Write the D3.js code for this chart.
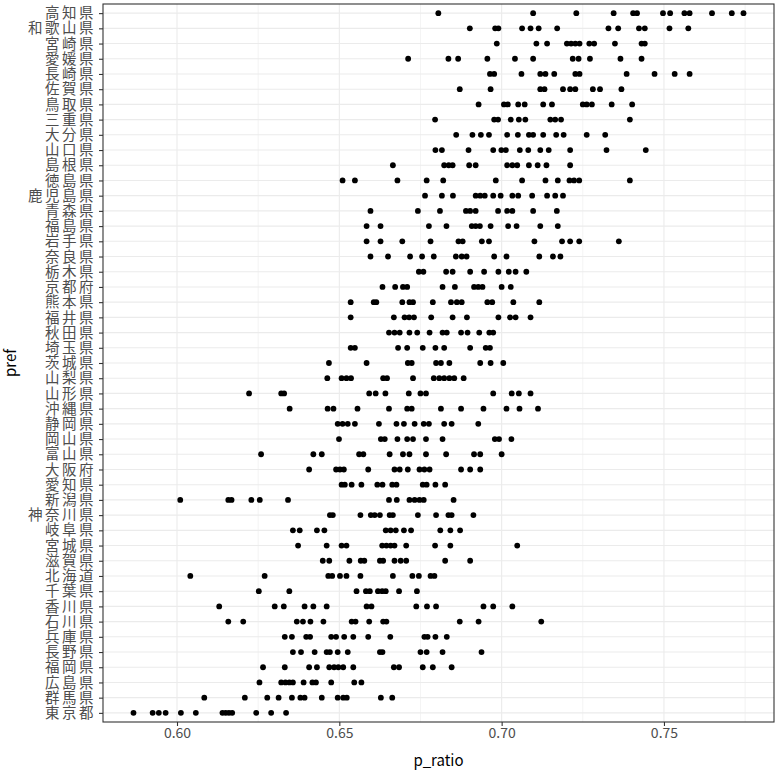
<!DOCTYPE html>
<html><head><meta charset="utf-8">
<script src="https://cdn.jsdelivr.net/npm/d3@7"></script>
<style>
body{margin:0;background:#fff;}
text{font-family:"Noto Sans CJK JP","Noto Sans",sans-serif;}
</style>
</head><body>
<svg id="chart" width="780" height="772"></svg>
<script>
// categories, top to bottom
const prefs = ["高知県","和歌山県","宮崎県","愛媛県","長崎県","佐賀県","鳥取県","三重県","大分県","山口県","島根県","徳島県","鹿児島県","青森県","福島県","岩手県","奈良県","栃木県","京都府","熊本県","福井県","秋田県","埼玉県","茨城県","山梨県","山形県","沖縄県","静岡県","岡山県","富山県","大阪府","愛知県","新潟県","神奈川県","岐阜県","宮城県","滋賀県","北海道","千葉県","香川県","石川県","兵庫県","長野県","福岡県","広島県","群馬県","東京都"];

// p_ratio values per prefecture (same order as prefs)
const pRatio = [
 [0.6805,0.7097,0.7230,0.7345,0.7405,0.7417,0.7497,0.7519,0.7563,0.7579,0.7648,0.7709,0.7745],
 [0.6902,0.6980,0.6990,0.7063,0.7089,0.7114,0.7171,0.7329,0.7359,0.7423,0.7441,0.7517,0.7575],
 [0.6985,0.7107,0.7140,0.7201,0.7214,0.7227,0.7240,0.7270,0.7285,0.7349,0.7431,0.7441],
 [0.6712,0.6836,0.6866,0.6956,0.7041,0.7097,0.7219,0.7237,0.7272,0.7366,0.7431],
 [0.6964,0.6977,0.7061,0.7119,0.7135,0.7162,0.7227,0.7240,0.7385,0.7471,0.7533,0.7579],
 [0.6871,0.6966,0.7119,0.7132,0.7189,0.7211,0.7227,0.7281,0.7303,0.7369],
 [0.6929,0.7007,0.7019,0.7051,0.7071,0.7128,0.7155,0.7250,0.7262,0.7278,0.7339,0.7402],
 [0.6795,0.6977,0.6989,0.7028,0.7053,0.7073,0.7150,0.7165,0.7183,0.7395],
 [0.6860,0.6910,0.6936,0.6961,0.7017,0.7050,0.7084,0.7097,0.7128,0.7168,0.7191,0.7262,0.7319],
 [0.6796,0.6816,0.6898,0.6974,0.6999,0.7013,0.7056,0.7082,0.7119,0.7145,0.7211,0.7323,0.7444],
 [0.6665,0.6823,0.6837,0.6849,0.6900,0.6920,0.7017,0.7033,0.7048,0.7084,0.7111,0.7138,0.7211],
 [0.6510,0.6548,0.6679,0.6769,0.6820,0.6982,0.7063,0.7135,0.7173,0.7209,0.7223,0.7239,0.7395],
 [0.6764,0.6816,0.6850,0.6920,0.6934,0.6948,0.6974,0.6997,0.7033,0.7051,0.7094,0.7140,0.7165,0.7189],
 [0.6596,0.6742,0.6810,0.6890,0.6903,0.6920,0.6989,0.7017,0.7033,0.7097,0.7170],
 [0.6584,0.6627,0.6776,0.6830,0.6908,0.6920,0.6933,0.6966,0.7020,0.7046,0.7119,0.7173],
 [0.6584,0.6627,0.6694,0.6781,0.6867,0.6880,0.6939,0.6961,0.7101,0.7186,0.7211,0.7239,0.7361],
 [0.6596,0.6650,0.6718,0.6755,0.6791,0.6859,0.6877,0.6892,0.6977,0.7015,0.7116,0.7158,0.7181],
 [0.6745,0.6759,0.6829,0.6849,0.6903,0.6946,0.6990,0.7022,0.7043,0.7076],
 [0.6633,0.6672,0.6696,0.6709,0.6818,0.6856,0.6915,0.6928,0.6941,0.7000,0.7028],
 [0.6535,0.6606,0.6614,0.6694,0.6716,0.6727,0.6788,0.6844,0.6862,0.6877,0.6956,0.6971,0.7036,0.7116],
 [0.6535,0.6668,0.6701,0.6715,0.6730,0.6783,0.6849,0.6893,0.6990,0.7026,0.7043,0.7089],
 [0.6653,0.6670,0.6686,0.6716,0.6740,0.6778,0.6818,0.6831,0.6875,0.6895,0.6931,0.6962,0.6974],
 [0.6535,0.6548,0.6681,0.6709,0.6757,0.6796,0.6823,0.6903,0.6951,0.6964],
 [0.6468,0.6584,0.6711,0.6723,0.6798,0.6813,0.6839,0.6934,0.6966,0.7005],
 [0.6463,0.6507,0.6522,0.6536,0.6635,0.6647,0.6727,0.6791,0.6808,0.6823,0.6839,0.6854,0.6883],
 [0.6222,0.6321,0.6330,0.6592,0.6612,0.6642,0.6714,0.6750,0.6767,0.6974,0.7031,0.7053,0.7089],
 [0.6347,0.6464,0.6482,0.6556,0.6653,0.6709,0.6723,0.6813,0.6875,0.6944,0.7015,0.7055,0.7112],
 [0.6495,0.6510,0.6526,0.6548,0.6622,0.6676,0.6699,0.6732,0.6760,0.6776,0.6823,0.6846,0.6928],
 [0.6499,0.6628,0.6640,0.6679,0.6709,0.6727,0.6767,0.6818,0.6979,0.6992,0.7030],
 [0.6259,0.6420,0.6446,0.6561,0.6574,0.6655,0.6696,0.6716,0.6767,0.6829,0.6915,0.6934,0.7000],
 [0.6407,0.6490,0.6502,0.6514,0.6589,0.6670,0.6686,0.6711,0.6747,0.6762,0.6778,0.6875,0.6903,0.6934],
 [0.6507,0.6517,0.6538,0.6568,0.6617,0.6633,0.6663,0.6676,0.6757,0.6769,0.6796,0.6826],
 [0.6010,0.6158,0.6168,0.6229,0.6255,0.6342,0.6653,0.6677,0.6716,0.6732,0.6747,0.6760,0.6852],
 [0.6471,0.6480,0.6565,0.6597,0.6609,0.6625,0.6655,0.6665,0.6742,0.6798,0.6836,0.6846,0.6913],
 [0.6357,0.6378,0.6431,0.6454,0.6643,0.6658,0.6674,0.6699,0.6721,0.6811,0.6842,0.6872],
 [0.6373,0.6461,0.6507,0.6522,0.6632,0.6645,0.6658,0.6670,0.6706,0.6795,0.6842,0.7048],
 [0.6449,0.6469,0.6531,0.6566,0.6577,0.6625,0.6635,0.6670,0.6689,0.6706,0.6826,0.6903],
 [0.6041,0.6270,0.6466,0.6478,0.6502,0.6522,0.6565,0.6665,0.6725,0.6745,0.6781,0.6793],
 [0.6252,0.6346,0.6553,0.6582,0.6594,0.6619,0.6632,0.6643,0.6684,0.6739],
 [0.6130,0.6301,0.6329,0.6393,0.6420,0.6461,0.6584,0.6599,0.6737,0.6770,0.6798,0.6944,0.6974,0.7033],
 [0.6158,0.6204,0.6369,0.6388,0.6411,0.6451,0.6538,0.6550,0.6592,0.6635,0.6645,0.6871,0.6929,0.7122],
 [0.6332,0.6354,0.6398,0.6410,0.6475,0.6490,0.6515,0.6543,0.6589,0.6657,0.6762,0.6772,0.6796,0.6831],
 [0.6357,0.6382,0.6424,0.6461,0.6471,0.6495,0.6526,0.6625,0.6633,0.6750,0.6769,0.6818,0.6938],
 [0.6265,0.6332,0.6407,0.6431,0.6469,0.6484,0.6497,0.6512,0.6543,0.6668,0.6684,0.6757,0.6788,0.6846],
 [0.6254,0.6321,0.6334,0.6346,0.6357,0.6390,0.6417,0.6428,0.6475,0.6546,0.6568],
 [0.6084,0.6209,0.6278,0.6313,0.6354,0.6380,0.6393,0.6446,0.6495,0.6512,0.6523,0.6628,0.6663],
 [0.5866,0.5925,0.5944,0.5965,0.6012,0.6058,0.6140,0.6150,0.6160,0.6170,0.6244,0.6290,0.6336]
];

const xMajor = [0.60, 0.65, 0.70, 0.75];
const xMinor = [0.625, 0.675, 0.725, 0.775];
const xTickLabels = ["0.60", "0.65", "0.70", "0.75"];
const xTitle = "p_ratio";
const yTitle = "pref";

const points = [];
prefs.forEach((p, i) => pRatio[i].forEach(v => points.push({pref: p, v})));

const svg = d3.select("#chart");
const panel = {left: 103, top: 4, right: 774, bottom: 722};

const ext = d3.extent(points, d => d.v);
const pad = (ext[1] - ext[0]) * 0.05;
const x = d3.scaleLinear().domain([ext[0] - pad, ext[1] + pad]).range([panel.left, panel.right]);
const y = d3.scalePoint().domain(prefs).range([panel.top, panel.bottom]).padding(0.6);

svg.append("rect").attr("x", panel.left).attr("y", panel.top)
  .attr("width", panel.right - panel.left).attr("height", panel.bottom - panel.top)
  .attr("fill", "#fff");

svg.append("g").selectAll("line").data(xMinor.filter(d => d >= x.domain()[0] && d <= x.domain()[1])).join("line")
  .attr("x1", d => x(d)).attr("x2", d => x(d)).attr("y1", panel.top).attr("y2", panel.bottom)
  .attr("stroke", "#ebebeb").attr("stroke-width", 0.6);
svg.append("g").selectAll("line").data(xMajor).join("line")
  .attr("x1", d => x(d)).attr("x2", d => x(d)).attr("y1", panel.top).attr("y2", panel.bottom)
  .attr("stroke", "#ebebeb").attr("stroke-width", 1.1);
svg.append("g").selectAll("line").data(prefs).join("line")
  .attr("x1", panel.left).attr("x2", panel.right).attr("y1", d => y(d)).attr("y2", d => y(d))
  .attr("stroke", "#ebebeb").attr("stroke-width", 1.1);

svg.append("g").selectAll("circle").data(points).join("circle")
  .attr("cx", d => x(d.v)).attr("cy", d => y(d.pref)).attr("r", 2.9)
  .attr("fill", "#000");

svg.append("rect").attr("x", panel.left).attr("y", panel.top)
  .attr("width", panel.right - panel.left).attr("height", panel.bottom - panel.top)
  .attr("fill", "none").attr("stroke", "#333").attr("stroke-width", 1.1);

const xAxis = d3.axisBottom(x).tickValues(xMajor).tickFormat((d, i) => xTickLabels[i]).tickSize(4).tickPadding(2);
const gx = svg.append("g").attr("transform", `translate(0,${panel.bottom})`).call(xAxis);
gx.select(".domain").remove();
gx.selectAll(".tick line").attr("stroke", "#333").attr("stroke-width", 1.1);
gx.selectAll(".tick text").attr("fill", "#4d4d4d").style("font-size", "14px")
  .style("font-family", "'Noto Sans CJK JP','Noto Sans',sans-serif");

const yAxis = d3.axisLeft(y).tickSize(4).tickPadding(3);
const gy = svg.append("g").attr("transform", `translate(${panel.left},0)`).call(yAxis);
gy.select(".domain").remove();
gy.selectAll(".tick line").attr("stroke", "#333").attr("stroke-width", 1.1);
gy.selectAll(".tick text").attr("fill", "#4d4d4d").style("font-size", "14.5px")
  .style("letter-spacing", "2.5px")
  .style("font-family", "'Noto Sans CJK JP',sans-serif");

svg.append("text").attr("x", (panel.left + panel.right) / 2).attr("y", 766)
  .attr("text-anchor", "middle").style("font-size", "15px").attr("fill", "#000").text(xTitle);
svg.append("text").attr("transform", `translate(16,${(panel.top + panel.bottom) / 2}) rotate(-90)`)
  .attr("text-anchor", "middle").style("font-size", "15px").attr("fill", "#000").text(yTitle);
</script>
</body></html>
